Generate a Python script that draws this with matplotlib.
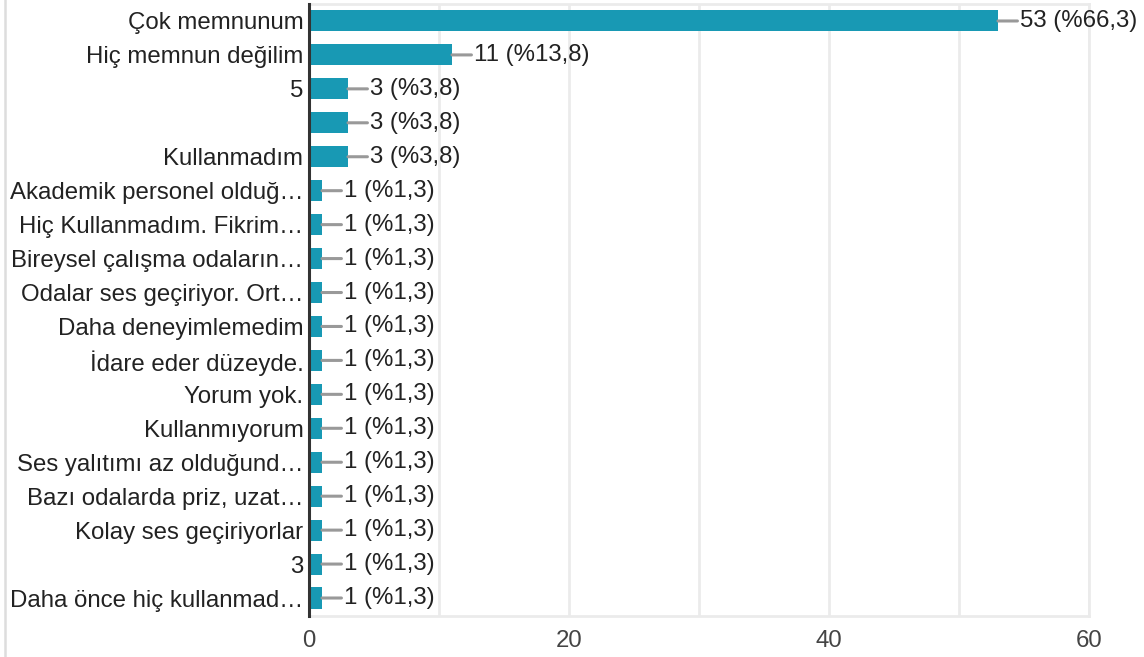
import matplotlib.pyplot as plt
from matplotlib.lines import Line2D

plt.rcParams['font.family'] = ['Liberation Sans', 'DejaVu Sans']

# Survey answers (truncated like in the original form summary)
labels = [
    "Çok memnunum",
    "Hiç memnun değilim",
    "5",
    "",
    "Kullanmadım",
    "Akademik personel olduğ…",
    "Hiç Kullanmadım. Fikrim…",
    "Bireysel çalışma odaların…",
    "Odalar ses geçiriyor. Ort…",
    "Daha deneyimlemedim",
    "İdare eder düzeyde.",
    "Yorum yok.",
    "Kullanmıyorum",
    "Ses yalıtımı az olduğund…",
    "Bazı odalarda priz, uzat…",
    "Kolay ses geçiriyorlar",
    "3",
    "Daha önce hiç kullanmad…",
]
counts = [53, 11, 3, 3, 3, 1, 1, 1, 1, 1, 1, 1, 1, 1, 1, 1, 1, 1]
percents = ["66,3", "13,8", "3,8", "3,8", "3,8", "1,3", "1,3", "1,3", "1,3",
            "1,3", "1,3", "1,3", "1,3", "1,3", "1,3", "1,3", "1,3", "1,3"]
xticks = [0, 20, 40, 60]

fig = plt.figure(figsize=(11.44, 6.57), dpi=100)
ax = fig.add_axes([309 / 1144, 41 / 657, 780 / 1144, 612 / 657])

pos = list(range(len(labels)))
ax.barh(pos, counts, height=0.62, color="#1899b4", zorder=3)

for y, c, p in zip(pos, counts, percents):
    ax.annotate(f"{c} (%{p})", xy=(c, y), xytext=(16, 0), textcoords="offset points",
                ha="left", va="center", fontsize=17.3, color="#222222",
                arrowprops=dict(arrowstyle="-", color="#999999", lw=2.2,
                                shrinkA=0, shrinkB=0), annotation_clip=False)

ax.set_xlim(0, 60)
ax.set_ylim(len(labels) - 0.47, -0.5)
ax.set_yticks(pos)
ax.set_yticklabels(labels, fontsize=17.3, color="#222222")
ax.set_xticks(xticks)
ax.set_xticklabels([str(t) for t in xticks], fontsize=17.3, color="#444444")
ax.set_xticks(range(0, 61, 10), minor=True)
ax.tick_params(axis="both", which="both", length=0)
ax.tick_params(axis="y", pad=4)
ax.tick_params(axis="x", pad=10)
ax.grid(axis="x", which="both", color="#ebebeb", lw=2, zorder=0)

for side in ["top", "bottom", "right"]:
    ax.spines[side].set_color("#ebebeb")
    ax.spines[side].set_linewidth(2)
ax.spines["left"].set_color("#333333")
ax.spines["left"].set_linewidth(2.2)
ax.spines["left"].set_zorder(4)

# light frame line on the far left
fig.add_artist(Line2D([5 / 1144, 5 / 1144], [0, 1], color="#dddddd", lw=1.8))

fig.savefig("out.png", dpi=100)
